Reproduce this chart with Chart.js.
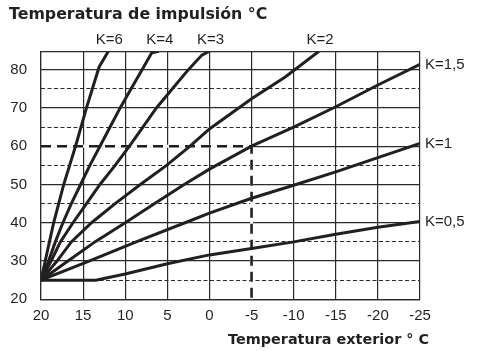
<!DOCTYPE html>
<html>
<head>
<meta charset="utf-8">
<script src="https://cdn.jsdelivr.net/npm/chart.js"></script>
<style>
  html, body { margin: 0; padding: 0; background: #fff; }
  canvas { display: block; }
</style>
</head>
<body>
<canvas id="myChart" width="478" height="351"></canvas>
<script>
// axis ticks
const xTicks = [20, 15, 10, 5, 0, -5, -10, -15, -20, -25];
const yTicks = [20, 30, 40, 50, 60, 70, 80];
const yHalfTicks = [25, 35, 45, 55, 65, 75];

// heating curves (outdoor temp -> flow temp)
const kLabels = ['K=6', 'K=4', 'K=3', 'K=2', 'K=1,5', 'K=1', 'K=0,5'];
const k6X = [20, 19.5, 19, 18.5, 17.9, 17.3, 16.6, 15.9, 14.6, 13.1, 12];
const k6Y = [25, 30, 35, 40, 45, 50, 55, 60, 70, 80.7, 84.8];
const k4X = [20, 19.1, 18.3, 17.4, 16.4, 15.3, 14.2, 13, 11.8, 10.6, 9.3, 8, 6.85, 6];
const k4Y = [25, 30, 35, 40, 45, 50, 55, 60, 65, 70, 75, 80, 84.4, 84.8];
const k3X = [20, 18.8, 17.7, 16.2, 14.6, 13, 11.2, 9.5, 7.9, 6.3, 4.4, 2.5, 0.9, 0];
const k3Y = [25, 30, 35, 40, 45, 50, 55, 60, 65, 70, 75, 80, 83.8, 84.8];
const k2X = [20, 18.1, 16.4, 14, 11.2, 8.2, 5.1, 2.3, 0, -5, -9, -13];
const k2Y = [25, 30, 35, 40, 45, 50, 55, 60, 64.5, 72.4, 78.1, 84.8];
const k15X = [20, 16.8, 13.6, 10, 6.5, 3, 0, -5, -10, -15, -20, -25];
const k15Y = [25, 30, 35, 40, 45, 50, 54, 60, 65, 70.3, 76, 81.4];
const k1X = [20, 14.3, 8.7, 2.9, 0, -5, -10, -15, -20, -25];
const k1Y = [25, 30, 35, 40, 42.5, 46.4, 49.8, 53.3, 57, 60.7];
const k05X = [20, 13.5, 10, 5, 0, -5, -10, -15, -20, -25];
const k05Y = [25, 25, 26.6, 29.3, 31.6, 33.3, 35, 37, 38.8, 40.3];

// example reading: -5 °C outside -> 60 °C flow
const refX = [20, -5, -5];
const refY = [60, 60, 20];

const ink = '#231f20';
const gridColor = '#2a2a2a';
const boldFamily = '"DejaVu Sans", "Liberation Sans", Arial, sans-serif';

Chart.defaults.font.family = '"Liberation Sans", Arial, sans-serif';
Chart.defaults.color = ink;

function toPoints(xs, ys) {
  return xs.map((x, i) => ({ x: x, y: ys[i] }));
}

const curves = [[k6X, k6Y], [k4X, k4Y], [k3X, k3Y], [k2X, k2Y], [k15X, k15Y], [k1X, k1Y], [k05X, k05Y]];

const datasets = curves.map((c, i) => ({
  label: kLabels[i],
  kLabel: true,
  data: toPoints(c[0], c[1]),
  showLine: true,
  borderColor: ink,
  borderWidth: 3,
  pointRadius: 0,
  order: 0
}));

// white under the dashed reading so the grid doesn't show in the gaps
datasets.push({
  label: 'ref-bg',
  data: toPoints(refX, refY),
  showLine: true,
  borderColor: '#fff',
  borderWidth: 3,
  pointRadius: 0,
  order: 3
});
datasets.push({
  label: 'ref',
  data: toPoints(refX, refY),
  showLine: true,
  borderColor: ink,
  borderWidth: 2.6,
  borderDash: [10, 6],
  pointRadius: 0,
  order: 2
});

const kLabelPlugin = {
  id: 'kLabels',
  afterDatasetsDraw(chart) {
    const c = chart.ctx;
    const area = chart.chartArea;
    c.save();
    // top frame line
    c.strokeStyle = gridColor;
    c.lineWidth = 1.2;
    c.beginPath();
    c.moveTo(area.left, area.top);
    c.lineTo(area.right, area.top);
    c.stroke();

    c.fillStyle = ink;
    c.font = '15px "Liberation Sans", Arial, sans-serif';
    chart.data.datasets.forEach((ds, i) => {
      if (!ds.kLabel) return;
      const pts = chart.getDatasetMeta(i).data;
      const last = pts[pts.length - 1];
      c.textBaseline = 'middle';
      if (last.x >= area.right - 1) {
        c.textAlign = 'left';
        c.fillText(ds.label, area.right + 5, last.y + 0.5);
      } else {
        c.textAlign = 'center';
        c.fillText(ds.label, last.x + 1, area.top - 11.5);
      }
    });

    c.font = 'bold 14.4px ' + boldFamily;
    c.textAlign = 'right';
    c.textBaseline = 'middle';
    c.fillText('Temperatura exterior ° C', area.right + 9, area.bottom + 40.5);
    c.restore();
  }
};

const ctx = document.getElementById('myChart');

new Chart(ctx, {
  type: 'scatter',
  data: { datasets: datasets },
  options: {
    responsive: false,
    devicePixelRatio: 1,
    animation: false,
    layout: { padding: { left: 9, right: 58, top: 0, bottom: 0 } },
    plugins: {
      legend: { display: false },
      tooltip: { enabled: false },
      title: {
        display: true,
        text: 'Temperatura de impulsión °C',
        align: 'start',
        color: ink,
        font: { size: 15.8, weight: 'bold', family: boldFamily },
        padding: { top: 5.5, bottom: 27.2 }
      }
    },
    scales: {
      x: {
        type: 'linear',
        reverse: true,
        min: -25,
        max: 20,
        afterBuildTicks: s => { s.ticks = xTicks.map(v => ({ value: v })); },
        afterFit: s => { s.height = 51.7; },
        ticks: { font: { size: 15 }, color: ink, padding: 8, maxRotation: 0, autoSkip: false },
        grid: { color: gridColor, lineWidth: 1.2, drawTicks: false },
        border: { color: gridColor, width: 1.2 }
      },
      y: {
        min: 20,
        max: 84.7,
        afterBuildTicks: s => { s.ticks = yTicks.map(v => ({ value: v })); },
        afterFit: s => { s.width = 32; },
        ticks: { font: { size: 15 }, color: ink, padding: 14 },
        grid: { color: gridColor, lineWidth: 1.2, drawTicks: false },
        border: { color: gridColor, width: 1.2 }
      },
      y2: {
        position: 'left',
        min: 20,
        max: 84.7,
        afterBuildTicks: s => { s.ticks = yHalfTicks.map(v => ({ value: v })); },
        afterFit: s => { s.width = 0; },
        ticks: { display: false },
        grid: { color: gridColor, lineWidth: 1, drawTicks: false },
        border: { display: false, dash: [4, 2.5] }
      }
    }
  },
  plugins: [kLabelPlugin]
});
</script>
</body>
</html>
